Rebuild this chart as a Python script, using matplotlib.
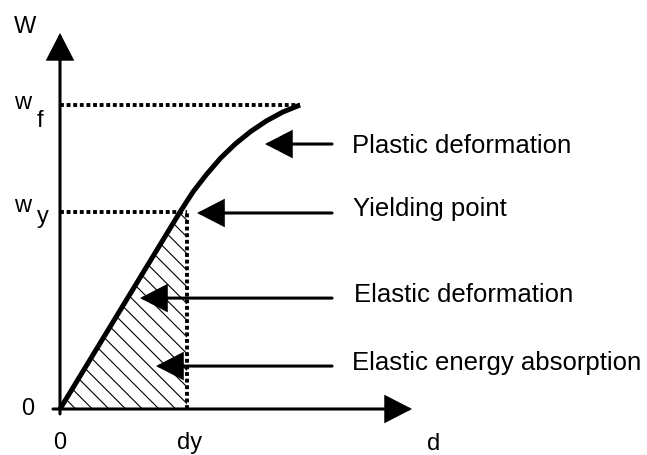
import matplotlib
matplotlib.use("Agg")
import matplotlib.pyplot as plt
from matplotlib.patches import FancyArrowPatch, Polygon

plt.rcParams['font.family'] = ['Liberation Sans', 'DejaVu Sans']
plt.rcParams['hatch.linewidth'] = 0.8

# load-displacement curve (d in units of dy, w in units of wy)
curve_d = [0.0, 0.945, 1.047, 1.154, 1.265, 1.381, 1.502, 1.627, 1.756, 1.890]
curve_w = [0.0, 1.000, 1.102, 1.191, 1.274, 1.346, 1.409, 1.463, 1.508, 1.543]
dy = 1.0
wy = 1.0
wf = 1.543

# annotation arrows and their labels
labels = ["Plastic deformation", "Yielding point",
          "Elastic deformation", "Elastic energy absorption"]
tip_d = [1.614, 1.079, 0.630, 0.756]
tip_w = [1.345, 0.995, 0.563, 0.218]
tail_d = 2.142
label_d = [2.299, 2.305, 2.318, 2.299]
label_w = [1.300, 0.978, 0.541, 0.198]

fig = plt.figure(figsize=(6.47, 4.55), dpi=100)
ax = fig.add_axes([0, 0, 1, 1])
ax.set_xlim(-60/127, 587/127)
ax.set_ylim((409-455)/197, 409/197)
ax.axis('off')

def arrow(x0, y0, x1, y1):
    a = FancyArrowPatch((x0, y0), (x1, y1),
                        arrowstyle='-|>,head_length=16.5,head_width=8.5',
                        mutation_scale=1, lw=2.2, color='black',
                        shrinkA=0, shrinkB=0, joinstyle='miter')
    ax.add_patch(a)

# axes
arrow(0, -0.025, 0, 1.909)
arrow(-0.055, 0, 2.772, 0)

# hatched elastic energy region
tri = Polygon([(0, 0), (curve_d[1], curve_w[1]), (dy, wy), (dy, 0)],
              closed=True, facecolor='none', edgecolor='black',
              hatch='\\\\', lw=0)
ax.add_patch(tri)

# dotted guides
dots = dict(color='black', lw=2.8, linestyle=(0, (1, 0.7)))
ax.plot([0, curve_d[-1]], [wf, wf], **dots)
ax.plot([0, dy], [wy, wy], **dots)
ax.plot([dy, dy], [0, wy], **dots)

# curve
ax.plot(curve_d, curve_w, color='black', lw=3.6,
        solid_capstyle='butt', solid_joinstyle='round')

for td, tw, lab, ld, lw_ in zip(tip_d, tip_w, labels, label_d, label_w):
    arrow(tail_d, tw, td, tw)
    ax.text(ld, lw_, lab, fontsize=18.5, ha='left', va='baseline')

# axis labels
fs = 17
ax.text(-0.276, 1.909, "W", fontsize=fs, ha='center', va='baseline')
ax.text(-0.362, 1.523, "w", fontsize=fs, ha='left', va='baseline')
ax.text(-0.185, 1.431, "f", fontsize=fs, ha='left', va='baseline')
ax.text(-0.362, 1.0, "w", fontsize=fs, ha='left', va='baseline')
ax.text(-0.185, 0.944, "y", fontsize=fs, ha='left', va='baseline')
ax.text(-0.256, -0.030, "0", fontsize=fs, ha='center', va='baseline')
ax.text(0.0, -0.203, "0", fontsize=fs, ha='center', va='baseline')
ax.text(1.024, -0.203, "dy", fontsize=fs, ha='center', va='baseline')
ax.text(2.945, -0.208, "d", fontsize=fs, ha='center', va='baseline')

plt.savefig("out.png", dpi=100)
